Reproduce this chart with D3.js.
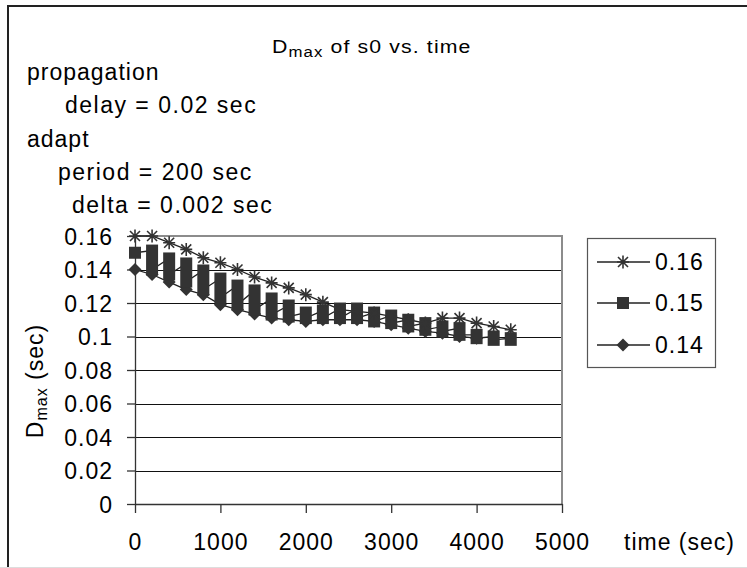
<!DOCTYPE html>
<html>
<head>
<meta charset="utf-8">
<script src="https://cdn.jsdelivr.net/npm/d3@7"></script>
<style>
    body { margin: 0; background: #fff; }
    svg { display: block; }
    text { font-family: "Liberation Sans", Arial, sans-serif; fill: #000; }
</style>
</head>
<body>
<div id="chart"></div>
<script>
// time axis (sec), one sample every 200 sec
let times = [0, 200, 400, 600, 800, 1000, 1200, 1400, 1600, 1800, 2000, 2200,
    2400, 2600, 2800, 3000, 3200, 3400, 3600, 3800, 4000, 4200, 4400];

// Dmax series, start value 0.16 (star markers)
let dmax016 = [0.160, 0.160, 0.156, 0.152, 0.147, 0.144, 0.140, 0.1355, 0.132, 0.129, 0.125, 0.1205,
    0.116, 0.115, 0.114, 0.112, 0.110, 0.108, 0.111, 0.111, 0.108, 0.106, 0.104];

// start value 0.15 (square markers): several values per step, top and bottom of each stack
let dmax015Top = [0.150, 0.1513, 0.1466, 0.1436, 0.1394, 0.1346, 0.1304, 0.1275, 0.1227, 0.1185, 0.1143, 0.1155,
    0.1167, 0.1167, 0.1143, 0.1125, 0.110, 0.108, 0.106, 0.105, 0.101, 0.100, 0.099];
let dmax015Bottom = [0.150, 0.140, 0.137, 0.1328, 0.1281, 0.1233, 0.1191, 0.1161, 0.1131, 0.1119, 0.111, 0.111,
    0.111, 0.111, 0.109, 0.108, 0.106, 0.104, 0.103, 0.101, 0.099, 0.098, 0.098];

// start value 0.14 (diamond markers)
let dmax014 = [0.140, 0.137, 0.1325, 0.128, 0.125, 0.119, 0.116, 0.1135, 0.111, 0.110, 0.109,
    0.110, 0.110, 0.110, 0.109, 0.107, 0.105, 0.103, 0.102, 0.100, 0.099];

let seriesNames = ["0.16", "0.15", "0.14"];
let xTicks = [0, 1000, 2000, 3000, 4000, 5000];
let yTicks = [0, 0.02, 0.04, 0.06, 0.08, 0.1, 0.12, 0.14, 0.16];
let yTickLabels = ["0", "0.02", "0.04", "0.06", "0.08", "0.1", "0.12", "0.14", "0.16"];
let notes = ["propagation", "delay = 0.02 sec", "adapt", "period = 200 sec", "delta = 0.002 sec"];

let W = 747, H = 568;
let plot = { left: 135, right: 562, top: 236, bottom: 504 };
let ink = "#333";

let svg = d3.select("#chart").append("svg")
    .attr("width", W)
    .attr("height", H);

// outer chart frame (only left / top show in the picture)
svg.append("path")
    .attr("d", "M8,570 L8,6 L750,6")
    .attr("fill", "none")
    .attr("stroke", "#222")
    .attr("stroke-width", 2);
svg.append("line")
    .attr("x1", 0).attr("x2", W)
    .attr("y1", 567.5).attr("y2", 567.5)
    .attr("stroke", "#ddd");

let xScale = d3.scaleLinear().domain([0, 5000]).range([plot.left, plot.right]);
let yScale = d3.scaleLinear().domain([0, 0.16]).range([plot.bottom, plot.top]);

// horizontal gridlines
svg.append("g")
    .selectAll("line")
    .data(yTicks.slice(1, -1))
    .join("line")
    .attr("x1", plot.left).attr("x2", plot.right)
    .attr("y1", function (d) { return Math.round(yScale(d)) + 0.5; })
    .attr("y2", function (d) { return Math.round(yScale(d)) + 0.5; })
    .attr("stroke", "#111")
    .attr("stroke-width", 1);

// plot area border, top and right in grey
svg.append("path")
    .attr("d", "M" + plot.left + "," + plot.top + "L" + plot.right + "," + plot.top + "L" + plot.right + "," + plot.bottom)
    .attr("fill", "none")
    .attr("stroke", "#8c8c8c")
    .attr("stroke-width", 2);

let xAxis = svg.append("g")
    .attr("transform", "translate(0," + plot.bottom + ")")
    .call(d3.axisBottom(xScale).tickValues(xTicks).tickSize(9).tickSizeOuter(0).tickPadding(21).tickFormat(d3.format("d")));

let yAxis = svg.append("g")
    .attr("transform", "translate(" + plot.left + ",0)")
    .call(d3.axisLeft(yScale).tickValues(yTicks).tickSize(8).tickSizeOuter(0).tickPadding(14)
        .tickFormat(function (d, i) { return yTickLabels[i]; }));

[xAxis, yAxis].forEach(function (g) {
    g.attr("font-family", null).attr("font-size", null);
    g.selectAll("path, line").attr("stroke", ink).attr("stroke-width", 1.3);
    g.selectAll("text")
        .style("font-size", "23px")
        .style("letter-spacing", "1px")
        .attr("fill", "#000");
});
yAxis.selectAll("text").attr("dy", "0.36em");

// axis titles
svg.append("text")
    .text("time (sec)")
    .attr("x", 624)
    .attr("y", 550)
    .style("font-size", "23px")
    .style("letter-spacing", "1px");

let yTitle = svg.append("text")
    .attr("transform", "translate(43,381) rotate(-90)")
    .attr("text-anchor", "middle")
    .style("font-size", "23px")
    .style("letter-spacing", "1px");
yTitle.append("tspan").text("D");
yTitle.append("tspan").text("max").style("font-size", "16px").attr("dy", 4);
yTitle.append("tspan").text(" (sec)").attr("dy", -4);

// chart title (the source text is stretched a little sideways)
let title = svg.append("text")
    .attr("transform", "translate(272,53) scale(1.12,1)")
    .style("font-size", "19px")
    .style("letter-spacing", "1px");
title.append("tspan").text("D");
title.append("tspan").text("max").style("font-size", "15px").attr("dy", 4);
title.append("tspan").text(" of s0 vs. time").attr("dy", -4);

// parameter notes at top left
let noteX = [27, 65, 27, 58, 72];
svg.append("g")
    .selectAll("text")
    .data(notes)
    .join("text")
    .text(function (d) { return d; })
    .attr("x", function (d, i) { return noteX[i]; })
    .attr("y", function (d, i) { return 80 + i * 33.3; })
    .style("font-size", "23px")
    .style("letter-spacing", function (d, i) { return i === 0 || i === 2 ? "1px" : "1.5px"; });

// marker shapes
let starPath = "M0,-6.5L0,6.5M-5,-5L5,5M-5,5L5,-5M-6,0L6,0";
let squareSize = 12;
let diamondPath = "M0,-6.5L6.5,0L0,6.5L-6.5,0Z";

let lineGen = d3.line()
    .x(function (d) { return xScale(d[0]); })
    .y(function (d) { return yScale(d[1]); });

let s016 = times.map(function (t, i) { return [t, dmax016[i]]; });
let s014 = dmax014.map(function (v, i) { return [times[i], v]; });
let s015 = [];
times.forEach(function (t, i) {
    s015.push([t, dmax015Top[i]]);
    s015.push([t, dmax015Bottom[i]]);
});

// series lines
[s014, s015, s016].forEach(function (pts) {
    svg.append("path")
        .datum(pts)
        .attr("fill", "none")
        .attr("stroke", "#222")
        .attr("stroke-width", 1.3)
        .attr("d", lineGen);
});

// 0.14 diamonds
svg.append("g")
    .selectAll("path")
    .data(s014)
    .join("path")
    .attr("d", diamondPath)
    .attr("transform", function (d) { return "translate(" + xScale(d[0]) + "," + yScale(d[1]) + ")"; })
    .attr("fill", ink);

// 0.15 squares, stacked between top and bottom value
svg.append("g")
    .selectAll("rect")
    .data(times)
    .join("rect")
    .attr("x", function (d) { return xScale(d) - squareSize / 2; })
    .attr("y", function (d, i) { return yScale(dmax015Top[i]) - squareSize / 2; })
    .attr("width", squareSize)
    .attr("height", function (d, i) { return yScale(dmax015Bottom[i]) - yScale(dmax015Top[i]) + squareSize; })
    .attr("fill", ink);

// 0.16 stars
svg.append("g")
    .selectAll("path")
    .data(s016)
    .join("path")
    .attr("d", starPath)
    .attr("transform", function (d) { return "translate(" + xScale(d[0]) + "," + yScale(d[1]) + ")"; })
    .attr("fill", "none")
    .attr("stroke", ink)
    .attr("stroke-width", 1.6);

// legend
let legend = svg.append("g");
legend.append("rect")
    .attr("x", 587.5).attr("y", 238.5)
    .attr("width", 128).attr("height", 129)
    .attr("fill", "#fff")
    .attr("stroke", "#555")
    .attr("stroke-width", 1.2);

let legendY = [262, 303, 345];
seriesNames.forEach(function (name, i) {
    let y = legendY[i];
    legend.append("line")
        .attr("x1", 597).attr("x2", 650)
        .attr("y1", y).attr("y2", y)
        .attr("stroke", "#222")
        .attr("stroke-width", 1.3);
    if (i === 0) {
        legend.append("path").attr("d", starPath)
            .attr("transform", "translate(623," + y + ")")
            .attr("fill", "none").attr("stroke", ink).attr("stroke-width", 1.6);
    } else if (i === 1) {
        legend.append("rect")
            .attr("x", 623 - squareSize / 2).attr("y", y - squareSize / 2)
            .attr("width", squareSize).attr("height", squareSize)
            .attr("fill", ink);
    } else {
        legend.append("path").attr("d", diamondPath)
            .attr("transform", "translate(623," + y + ")")
            .attr("fill", ink);
    }
    legend.append("text")
        .text(name)
        .attr("x", 655)
        .attr("y", y)
        .attr("dy", "0.36em")
        .style("font-size", "23px")
        .style("letter-spacing", "1px");
});
</script>
</body>
</html>
